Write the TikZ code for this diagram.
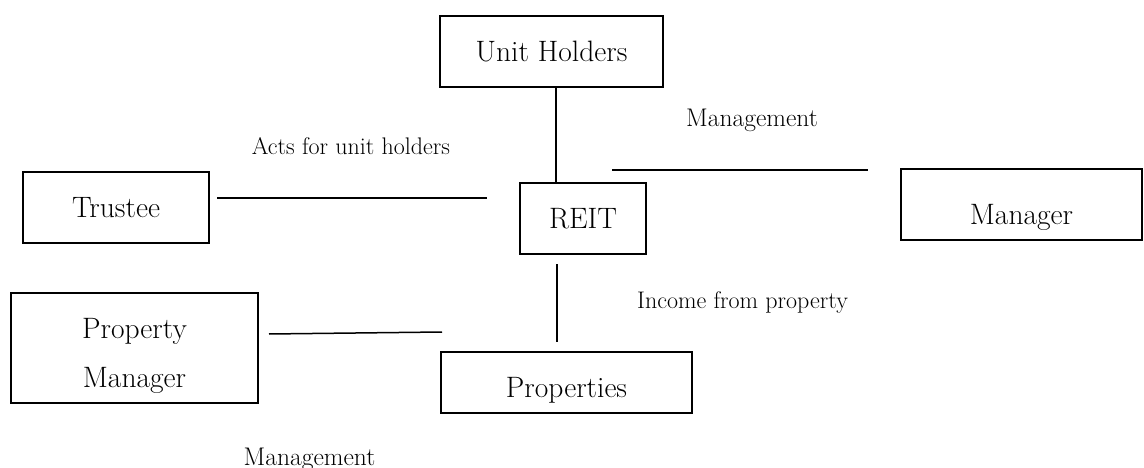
\documentclass[tikz,border=0pt]{standalone}
\usepackage{fontspec}
\begin{document}
\begin{tikzpicture}[x=1pt,y=-1pt,
  box/.style={draw,line width=1.3pt,inner sep=0pt,
    font=\fontsize{29.5}{35}\selectfont,text height=20pt,text depth=0pt},
  lbl/.style={anchor=base,inner sep=0pt,font=\fontsize{24}{29}\selectfont},
  conn/.style={line width=1.5pt}]
\useasboundingbox (0,0) rectangle (1144,468);
% boxes
\node[box,minimum width=223pt,minimum height=71pt] (uh) at (551.5,51.5) {Unit Holders};
\node[box,minimum width=186pt,minimum height=71pt] (trustee) at (116,207.5) {Trustee};
\node[box,minimum width=126pt,minimum height=71pt] (reit) at (583,218.5) {REIT};
\node[box,minimum width=241pt,minimum height=71pt,text height=39pt] (manager) at (1021.5,204.5) {Manager};
\node[box,minimum width=247pt,minimum height=110pt,align=center,
  font=\fontsize{29.5}{49}\selectfont,text height=78pt,text depth=0pt] (pm) at (134.5,348) {Property\\Manager};
\node[box,minimum width=251pt,minimum height=61pt,text height=30.4pt] (props) at (566.5,382.5) {Properties};
% labels
\node[lbl,font=\fontsize{25.5}{30}\selectfont] (lmgmt1) at (752,127) {Management};
\node[lbl] (lacts) at (351,155) {Acts for unit holders};
\node[lbl] (linc) at (742.5,308) {Income from property};
\node[lbl,font=\fontsize{25.5}{30}\selectfont] (lmgmt2) at (309.5,465) {Management};
% connector ends
\coordinate (vx1) at (556,0);
\coordinate (t1) at (217,198);
\coordinate (t2) at (487,198);
\coordinate (m1) at (612,170);
\coordinate (m2) at (868,170);
\coordinate (r1) at (557,264);
\coordinate (r2) at (557,342);
\coordinate (p1) at (269,334);
\coordinate (p2) at (442,332);
% connectors
\draw[conn] (uh.south -| vx1) -- (reit.north -| vx1);
\draw[conn] (t1) -- (t2);
\draw[conn] (m1) -- (m2);
\draw[conn] (r1) -- (r2);
\draw[conn] (p1) -- (p2);
\end{tikzpicture}
\end{document}
